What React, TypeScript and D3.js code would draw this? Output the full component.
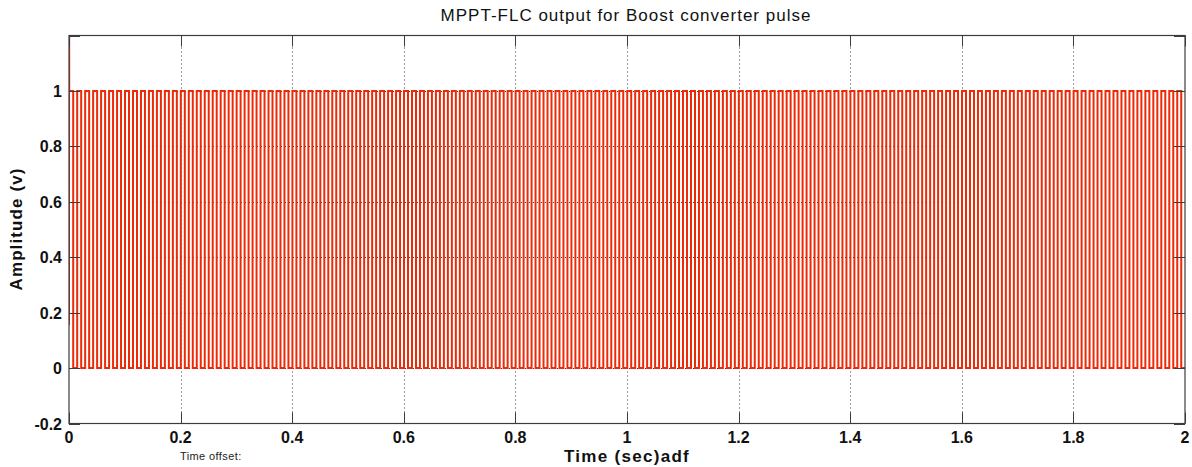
import React from "react";
import * as d3 from "d3";

// ---- data ----
const timeDomain = [0, 2];
const amplitudeDomain = [-0.2, 1.2];
const xTicks = [0, 0.2, 0.4, 0.6, 0.8, 1, 1.2, 1.4, 1.6, 1.8, 2];
const xTickLabels = ["0", "0.2", "0.4", "0.6", "0.8", "1", "1.2", "1.4", "1.6", "1.8", "2"];
const yTicks = [-0.2, 0, 0.2, 0.4, 0.6, 0.8, 1, 1.2];
const yTickLabels = ["-0.2", "0", "0.2", "0.4", "0.6", "0.8", "1", ""];
// start-up transient of the controller output (time s, amplitude v)
const startupTimes = [0, 0.0002, 0.0004];
const startupValues = [0.155, 1.35, 1];
// PWM pulse train parameters: frequency (Hz), duty cycle, low and high levels
const pulseFrequency = [70];
const pulseDuty = [0.5];
const pulseLevels = [0, 1];

const W = 1192;
const H = 467;
const M = { left: 69, right: 1185, top: 35.5, bottom: 423.5 };

export default function App() {
  const x = d3.scaleLinear().domain(timeDomain).range([M.left, M.right]);
  const y = d3.scaleLinear().domain(amplitudeDomain).range([M.bottom, M.top]);

  // build the pulse-train step signal
  const pts: [number, number][] = startupTimes.map((t, i) => [t, startupValues[i]]);
  const period = 1 / pulseFrequency[0];
  const [lo, hi] = pulseLevels;
  const tEnd = timeDomain[1];
  const t0 = startupTimes[startupTimes.length - 1];
  for (let k = 0; t0 + k * period < tEnd; k++) {
    const start = t0 + k * period;
    const fall = Math.min(start + period * pulseDuty[0], tEnd);
    const next = Math.min(start + period, tEnd);
    if (k > 0) pts.push([start, lo], [start, hi]);
    pts.push([fall, hi]);
    if (fall < tEnd) pts.push([fall, lo], [next, lo]);
  }
  const line = d3
    .line<[number, number]>()
    .x((d) => x(d[0]))
    .y((d) => y(d[1]));

  const axisColor = "#3c3c3c";
  const tickLen = 11;

  return (
    <svg width={W} height={H} style={{ position: "absolute", left: 0, top: 0, background: "#fff" }}
      fontFamily="Arial, 'Liberation Sans', Helvetica, sans-serif">
      <defs>
        <clipPath id="plotClip">
          <rect x={M.left} y={M.top} width={M.right - M.left} height={M.bottom - M.top} />
        </clipPath>
      </defs>
      <rect x={0} y={0} width={W} height={H} fill="#fff" />
      {/* grid */}
      <g stroke={axisColor} strokeWidth={1} strokeDasharray="1,3">
        {xTicks.slice(1, -1).map((t) => (
          <line key={"gx" + t} x1={Math.round(x(t)) + 0.5} x2={Math.round(x(t)) + 0.5} y1={M.top} y2={M.bottom} />
        ))}
        {yTicks.slice(1, -1).map((t) => (
          <line key={"gy" + t} x1={M.left} x2={M.right} y1={Math.round(y(t)) + 0.5} y2={Math.round(y(t)) + 0.5} />
        ))}
      </g>
      {/* signal */}
      <g clipPath="url(#plotClip)">
        <path d={line(pts) || ""} fill="none" stroke="#ec2a08" strokeWidth={2} />
      </g>
      {/* box and ticks */}
      <rect x={M.left} y={M.top} width={M.right - M.left} height={M.bottom - M.top} fill="none" stroke={axisColor} strokeWidth={1.2} />
      <g stroke={axisColor} strokeWidth={1}>
        {xTicks.map((t) => {
          const px = Math.round(x(t)) + 0.5;
          return (
            <g key={"tx" + t}>
              <line x1={px} x2={px} y1={M.bottom} y2={M.bottom - tickLen} />
              <line x1={px} x2={px} y1={M.top} y2={M.top + tickLen} />
            </g>
          );
        })}
        {yTicks.map((t) => {
          const py = Math.round(y(t)) + 0.5;
          return (
            <g key={"ty" + t}>
              <line x1={M.left} x2={M.left + tickLen} y1={py} y2={py} />
              <line x1={M.right} x2={M.right - tickLen} y1={py} y2={py} />
            </g>
          );
        })}
      </g>
      {/* tick labels */}
      <g fontSize={16} fontWeight="bold" fill="#111">
        {xTicks.map((t, i) => (
          <text key={"lx" + t} x={x(t)} y={443} textAnchor="middle">{xTickLabels[i]}</text>
        ))}
        {yTicks.map((t, i) => (
          <text key={"ly" + t} x={62} y={y(t) + 6} textAnchor="end">{yTickLabels[i]}</text>
        ))}
      </g>
      {/* title and labels */}
      <text x={626} y={21} textAnchor="middle" fontSize={17} letterSpacing={1} fill="#111">
        MPPT-FLC output for Boost converter pulse
      </text>
      <text x={627} y={462} textAnchor="middle" fontSize={17} fontWeight="bold" letterSpacing={1.3} fill="#111">
        Time (sec)adf
      </text>
      <text transform="translate(22,229) rotate(-90)" textAnchor="middle" fontSize={17} fontWeight="bold" letterSpacing={1.1} fill="#111">
        Amplitude (v)
      </text>
      <text x={180} y={460} fontSize={11} letterSpacing={0.4} fill="#222">Time offset:</text>
    </svg>
  );
}
